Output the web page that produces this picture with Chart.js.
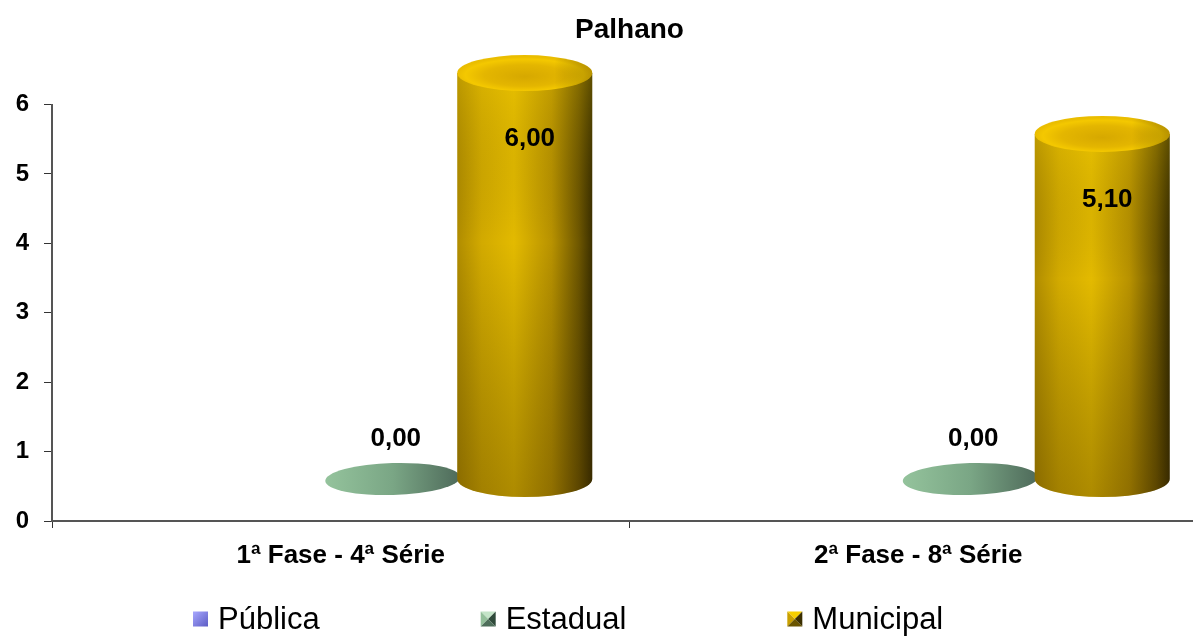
<!DOCTYPE html>
<html><head><meta charset="utf-8">
<script src="https://cdn.jsdelivr.net/npm/chart.js@4.4.1/dist/chart.umd.min.js"></script>
<style>html,body{margin:0;padding:0;overflow:hidden;background:#fff;} canvas{display:block;}</style>
</head><body>
<canvas id="c" width="1207" height="637"></canvas>
<script>
// ---- data ----
const chartTitle = 'Palhano';
const categories = ['1ª Fase - 4ª Série', '2ª Fase - 8ª Série'];
const seriesNames = ['Pública', 'Estadual', 'Municipal'];
const publica = [null, null];
const estadual = [0.00, 0.00];
const municipal = [6.00, 5.10];
const yTickValues = [0, 1, 2, 3, 4, 5, 6];

const FONT = '"Liberation Sans", Arial, sans-serif';
const palettes = [
  {light:'#a8a8ff', mid:'#8080e8', dark:'#4848a8', shade:'#6060c0'},
  {light:'#c4e4c8', mid:'#93bf9a', dark:'#2f4a3a', shade:'#4e6e5a'},
  {light:'#f6cf00', mid:'#c9a000', dark:'#3a2e00', shade:'#6a5500'}
];

// 3D projection of the bar floor (depth offset)
const DX = 52, DY = 42, KY = 0.975, RY = 18;

function fmt(v){ return v.toFixed(2).replace('.', ','); }

function drawCylinder(ctx, cx, by, ty, rx, ry){
  if (Math.abs(by - ty) < 0.5) {
    const g = ctx.createLinearGradient(cx - rx, 0, cx + rx, 0);
    g.addColorStop(0, '#94c39c');
    g.addColorStop(0.5, '#7aa685');
    g.addColorStop(1, '#4e6a5a');
    ctx.beginPath();
    ctx.ellipse(cx, by, rx, ry, -0.03, 0, Math.PI * 2);
    ctx.fillStyle = g; ctx.fill();
    return;
  }
  const body = new Path2D();
  body.moveTo(cx - rx, ty);
  body.lineTo(cx - rx, by);
  body.ellipse(cx, by, rx, ry, 0, Math.PI, 0, true);
  body.lineTo(cx + rx, ty);
  body.closePath();
  const g = ctx.createLinearGradient(cx - rx, 0, cx + rx, 0);
  g.addColorStop(0, '#b08c00');
  g.addColorStop(0.18, '#d2aa00');
  g.addColorStop(0.42, '#e3ba00');
  g.addColorStop(0.7, '#b89200');
  g.addColorStop(0.9, '#6e5700');
  g.addColorStop(1, '#3c3000');
  ctx.fillStyle = g; ctx.fill(body);
  const v = ctx.createLinearGradient(0, ty, 0, by + ry);
  v.addColorStop(0, 'rgba(255,220,0,0.18)');
  v.addColorStop(0.4, 'rgba(0,0,0,0)');
  v.addColorStop(1, 'rgba(50,30,0,0.3)');
  ctx.fillStyle = v; ctx.fill(body);
  // top face
  ctx.save();
  ctx.translate(cx, ty);
  ctx.scale(1, ry / rx);
  const r = ctx.createRadialGradient(0, rx * 0.2, 0, 0, rx * 0.1, rx);
  r.addColorStop(0, '#d6a800');
  r.addColorStop(0.6, '#e4b600');
  r.addColorStop(0.88, '#f4c800');
  r.addColorStop(1, '#eabd00');
  ctx.beginPath();
  ctx.arc(0, 0, rx, 0, Math.PI * 2);
  ctx.fillStyle = r; ctx.fill();
  ctx.restore();
  ctx.beginPath();
  ctx.ellipse(cx, ty, rx, ry, 0, 0, Math.PI * 2);
  const h = ctx.createLinearGradient(cx - rx, 0, cx + rx, 0);
  h.addColorStop(0, 'rgba(0,0,0,0)');
  h.addColorStop(0.72, 'rgba(0,0,0,0)');
  h.addColorStop(1, 'rgba(70,50,0,0.3)');
  ctx.fillStyle = h; ctx.fill();
}

const cylinderPlugin = {
  id: 'cyl',
  afterDatasetsDraw(chart){
    const ctx = chart.ctx;
    const base = chart.scales.y.getPixelForValue(0);
    ctx.save();
    chart.data.datasets.forEach((ds, di) => {
      const meta = chart.getDatasetMeta(di);
      meta.data.forEach((el, i) => {
        const val = ds.data[i];
        if (val === null || val === undefined) return;
        const cx = el.x + DX;
        const by = base - DY;
        const ty = by - (base - el.y) * KY;
        const rx = el.width / 2 + 1.5;
        drawCylinder(ctx, cx, by, ty, rx, di === 1 ? 16 : RY);
        ctx.fillStyle = '#000';
        ctx.font = 'bold 26px ' + FONT;
        ctx.textAlign = 'center';
        ctx.textBaseline = 'middle';
        if (val === 0) ctx.fillText(fmt(val), cx + 3, by - 40);
        else ctx.fillText(fmt(val), cx + 5, ty + 66);
      });
    });
    ctx.restore();
  },
  afterDraw(chart){
    const ctx = chart.ctx;
    ctx.save();
    ctx.font = '31px ' + FONT;
    ctx.textBaseline = 'middle';
    ctx.textAlign = 'left';
    let x = 193; const y = 619; const s = 15;
    chart.data.datasets.forEach((ds, di) => {
      const p = palettes[di];
      const x0 = x, y0 = y - s / 2, c = [x0 + s/2, y0 + s/2];
      const tri = (pts, col) => { ctx.beginPath(); ctx.moveTo(...pts[0]); ctx.lineTo(...pts[1]); ctx.lineTo(...pts[2]); ctx.closePath(); ctx.fillStyle = col; ctx.fill(); };
      if (di === 0) {
        const g = ctx.createLinearGradient(x0, y0, x0 + s, y0 + s);
        g.addColorStop(0, '#a8a8ff'); g.addColorStop(1, '#5c5cc4');
        ctx.fillStyle = g; ctx.fillRect(x0, y0, s, s);
      } else {
        tri([[x0,y0],[x0+s,y0],c], p.light);
        tri([[x0,y0],[x0,y0+s],c], p.mid);
        tri([[x0+s,y0],[x0+s,y0+s],c], p.dark);
        tri([[x0,y0+s],[x0+s,y0+s],c], p.shade);
      }
      ctx.fillStyle = '#000';
      ctx.fillText(ds.label, x0 + s + 10, y + 1);
      x = x0 + s + 10 + ctx.measureText(ds.label).width + 161;
    });
    ctx.restore();
  }
};

new Chart(document.getElementById('c'), {
  type: 'bar',
  data: {
    labels: categories,
    datasets: [
      {label: seriesNames[0], data: publica, backgroundColor: 'rgba(0,0,0,0)'},
      {label: seriesNames[1], data: estadual, backgroundColor: 'rgba(0,0,0,0)'},
      {label: seriesNames[2], data: municipal, backgroundColor: 'rgba(0,0,0,0)'}
    ]
  },
  plugins: [cylinderPlugin],
  options: {
    responsive: false,
    animation: false,
    events: [],
    layout: {padding: {left: 0, right: 0, top: 0, bottom: 0}},
    datasets: {bar: {categoryPercentage: 0.6857, barPercentage: 1.0, borderWidth: 0}},
    plugins: {
      legend: {display: false},
      tooltip: {enabled: false},
      title: {
        display: true, text: chartTitle, color: '#000', fullSize: false,
        font: {family: FONT, size: 28, weight: 'bold'},
        padding: {top: 13, bottom: 58}
      }
    },
    scales: {
      x: {
        grid: {display: true, drawOnChartArea: false, tickLength: 7, color: '#333', offset: true},
        border: {display: true, color: '#555', width: 2},
        ticks: {color: '#000', font: {family: FONT, size: 26, weight: 'bold'}, padding: 12, maxRotation: 0},
        afterFit(scale){ scale.height = 116; }
      },
      y: {
        min: 0, max: 6,
        afterBuildTicks(scale){ scale.ticks = yTickValues.map(v => ({value: v})); },
        grid: {display: true, drawOnChartArea: false, tickLength: 8, color: '#333'},
        border: {display: true, color: '#555', width: 2},
        ticks: {color: '#000', font: {family: FONT, size: 24, weight: 'bold'}, padding: 15},
        afterFit(scale){ scale.width = 52; }
      }
    }
  }
});
</script>
</body></html>
